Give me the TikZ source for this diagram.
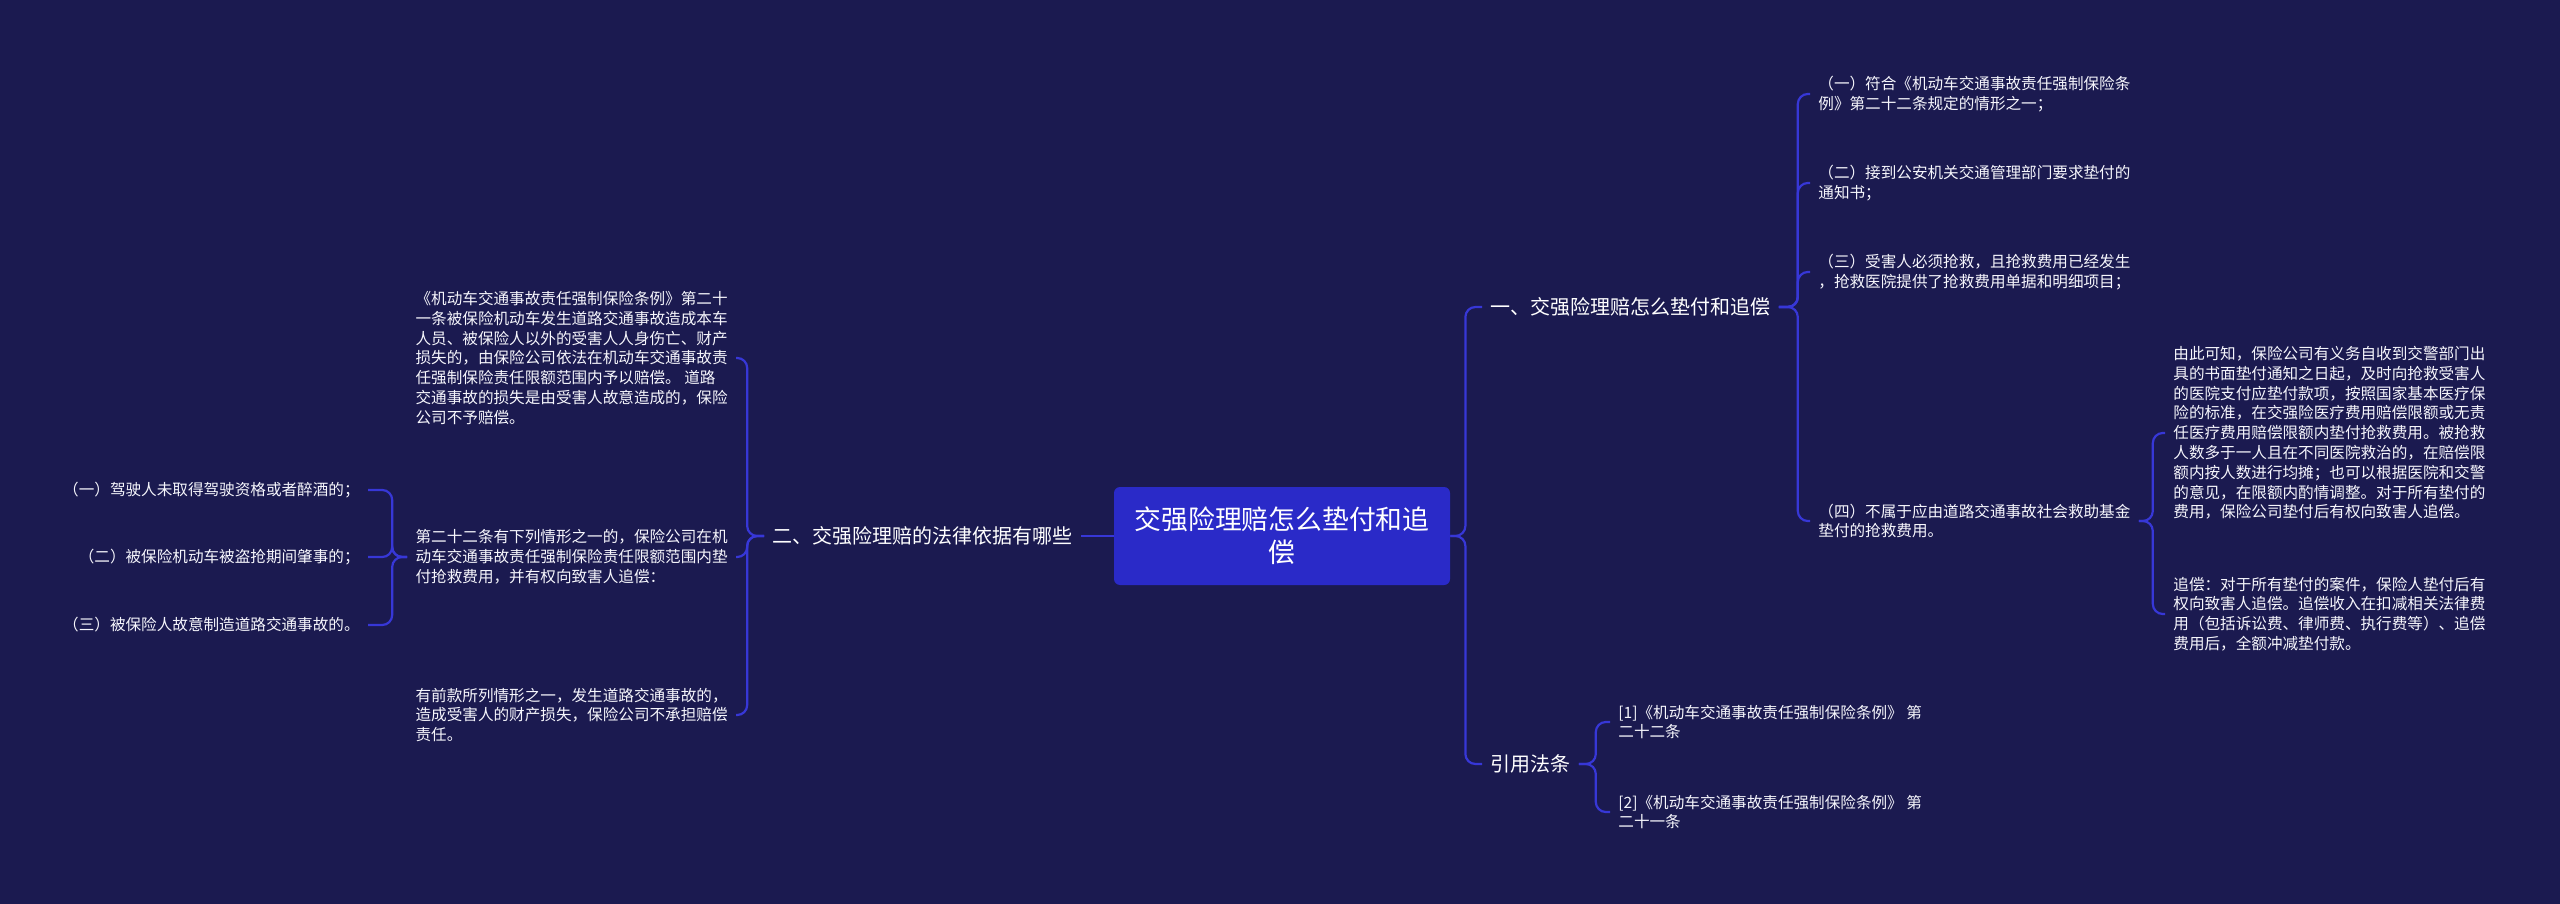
\documentclass[tikz,border=0pt]{standalone}
\usepackage{fontspec}
\setmainfont{Noto Sans CJK SC}
\definecolor{bgnavy}{RGB}{27,26,80}
\definecolor{linkblue}{RGB}{55,55,215}
\definecolor{rootblue}{RGB}{42,42,200}
\definecolor{leafwhite}{RGB}{246,246,252}

\begin{document}
\begin{tikzpicture}[x=0.5pt,y=-0.5pt,
  link/.style={draw=linkblue,line width=1.1pt,rounded corners=5pt},
  topic/.style={text=white,font=\fontsize{10pt}{12pt}\selectfont,inner xsep=4pt,inner ysep=2pt},
  leaf/.style={text=leafwhite,font=\fontsize{7.8pt}{9.9pt}\selectfont,align=left,inner xsep=4pt,inner ysep=2pt}]
% 背景
\fill[bgnavy] (0,0) rectangle (2560,904);
\useasboundingbox (0,0) rectangle (2560,904);
% 中心主题
\node[fill=rootblue,rounded corners=3pt,text=white,minimum width=168pt,minimum height=49pt,
  align=center,font=\fontsize{13.4pt}{16.5pt}\selectfont] (root) at (1282,536)
  {交强险理赔怎么垫付和追\\偿};
% 右侧一级
\node[topic,anchor=west] (pay) at (1482,307) {一、交强险理赔怎么垫付和追偿};
\node[topic,anchor=west] (cite) at (1482,764) {引用法条};
% 左侧一级
\node[topic,anchor=east] (basis) at (1081,536) {二、交强险理赔的法律依据有哪些};
% 垫付条件
\node[leaf,anchor=west] (c1) at (1810,94) {（一）符合《机动车交通事故责任强制保险条\\例》第二十二条规定的情形之一；};
\node[leaf,anchor=west] (c2) at (1810,183) {（二）接到公安机关交通管理部门要求垫付的\\通知书；};
\node[leaf,anchor=west] (c3) at (1810,272) {（三）受害人必须抢救，且抢救费用已经发生\\，抢救医院提供了抢救费用单据和明细项目；};
\node[leaf,anchor=west] (c4) at (1810,521) {（四）不属于应由道路交通事故社会救助基金\\垫付的抢救费用。};
% 第四项说明
\node[leaf,anchor=west] (c4a) at (2165,433) {由此可知，保险公司有义务自收到交警部门出\\具的书面垫付通知之日起，及时向抢救受害人\\的医院支付应垫付款项，按照国家基本医疗保\\险的标准，在交强险医疗费用赔偿限额或无责\\任医疗费用赔偿限额内垫付抢救费用。被抢救\\人数多于一人且在不同医院救治的，在赔偿限\\额内按人数进行均摊；也可以根据医院和交警\\的意见，在限额内酌情调整。对于所有垫付的\\费用，保险公司垫付后有权向致害人追偿。};
\node[leaf,anchor=west] (c4b) at (2165,614) {追偿：对于所有垫付的案件，保险人垫付后有\\权向致害人追偿。追偿收入在扣减相关法律费\\用（包括诉讼费、律师费、执行费等）、追偿\\费用后，全额冲减垫付款。};
% 引用法条
\node[leaf,anchor=west] (law1) at (1610,722) {[1]《机动车交通事故责任强制保险条例》 第\\二十二条};
\node[leaf,anchor=west] (law2) at (1610,812) {[2]《机动车交通事故责任强制保险条例》 第\\二十一条};
% 左侧法律依据
\node[leaf,anchor=east] (b1) at (736,358) {《机动车交通事故责任强制保险条例》第二十\\一条被保险机动车发生道路交通事故造成本车\\人员、被保险人以外的受害人人身伤亡、财产\\损失的，由保险公司依法在机动车交通事故责\\任强制保险责任限额范围内予以赔偿。 道路\\交通事故的损失是由受害人故意造成的，保险\\公司不予赔偿。};
\node[leaf,anchor=east] (b2) at (736,557) {第二十二条有下列情形之一的，保险公司在机\\动车交通事故责任强制保险责任限额范围内垫\\付抢救费用，并有权向致害人追偿：};
\node[leaf,anchor=east] (b3) at (736,715) {有前款所列情形之一，发生道路交通事故的，\\造成受害人的财产损失，保险公司不承担赔偿\\责任。};
% 第二十二条所列情形
\node[leaf,anchor=east] (s1) at (368,490) {（一）驾驶人未取得驾驶资格或者醉酒的；};
\node[leaf,anchor=east] (s2) at (368,557) {（二）被保险机动车被盗抢期间肇事的；};
\node[leaf,anchor=east] (s3) at (368,625) {（三）被保险人故意制造道路交通事故的。};
% 连线
\draw[link] (root.east) -- ++(15,0) |- (pay.west);
\draw[link] (root.east) -- ++(15,0) |- (cite.west);
\draw[link] (root.west) -- (basis.east);
\foreach \n in {c1,c2,c3,c4}
  \draw[link] (pay.east) -- ++(19,0) |- (\n.west);
\foreach \n in {c4a,c4b}
  \draw[link] (c4.east) -- ++(14,0) |- (\n.west);
\foreach \n in {law1,law2}
  \draw[link] (cite.east) -- ++(17,0) |- (\n.west);
\foreach \n in {b1,b2,b3}
  \draw[link] (basis.west) -- ++(-17,0) |- (\n.east);
\foreach \n in {s1,s2,s3}
  \draw[link] (b2.west) -- ++(-15,0) |- (\n.east);
\end{tikzpicture}
\end{document}
